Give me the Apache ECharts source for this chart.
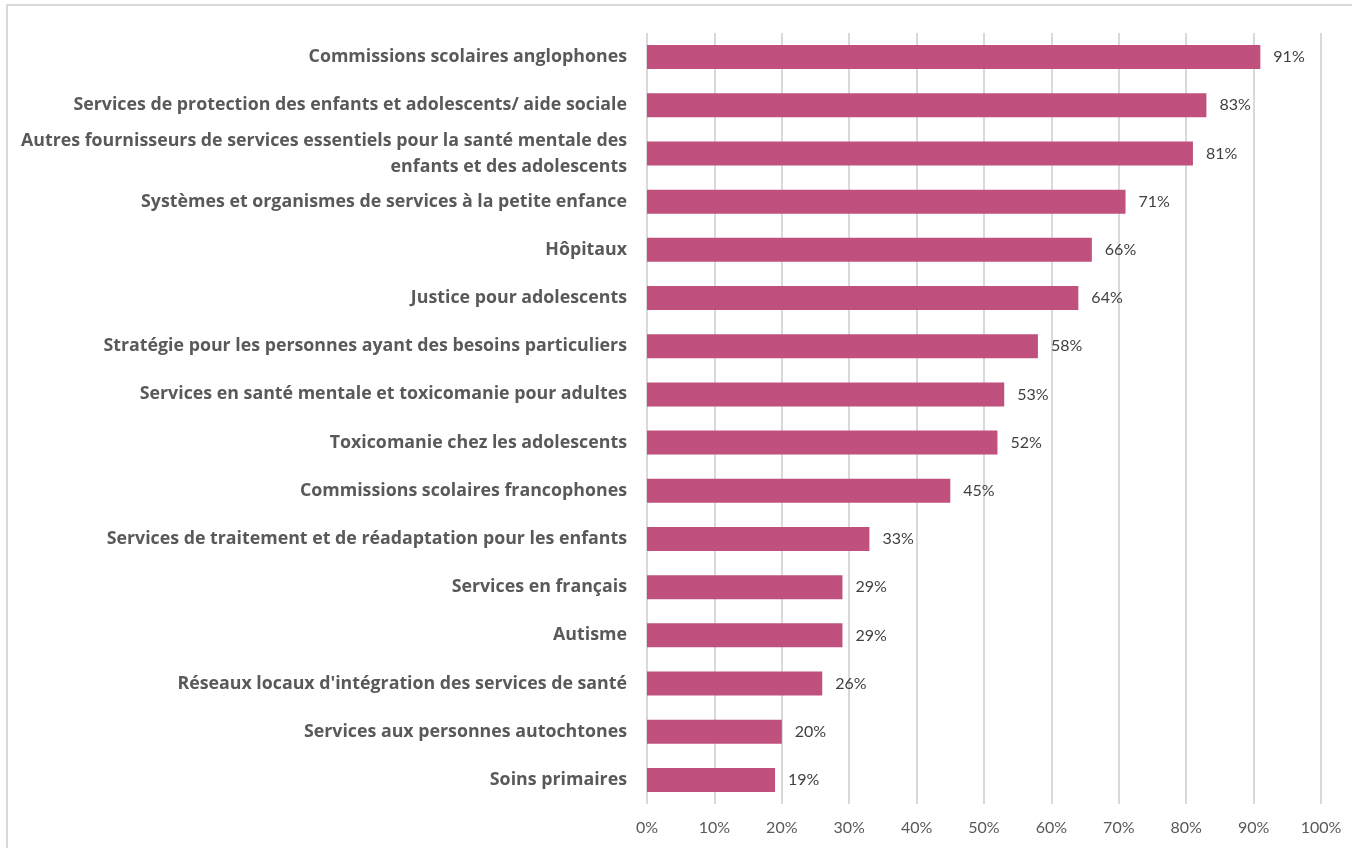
<!DOCTYPE html>
<html>
<head>
<meta charset="utf-8">
<script src="https://cdn.jsdelivr.net/npm/echarts@6/dist/echarts.min.js"></script>
<style>
html, body { margin: 0; padding: 0; background: #fff; }
#chart { width: 1352px; height: 848px; }
</style>
</head>
<body>
<div id="chart"></div>
<script>
var categories = [
  'Commissions scolaires anglophones',
  'Services de protection des enfants et adolescents/ aide sociale',
  'Autres fournisseurs de services essentiels pour la santé mentale des\nenfants et des adolescents',
  'Systèmes et organismes de services à la petite enfance',
  'Hôpitaux',
  'Justice pour adolescents',
  'Stratégie pour les personnes ayant des besoins particuliers',
  'Services en santé mentale et toxicomanie pour adultes',
  'Toxicomanie chez les adolescents',
  'Commissions scolaires francophones',
  'Services de traitement et de réadaptation pour les enfants',
  'Services en français',
  'Autisme',
  "Réseaux locaux d'intégration des services de santé",
  'Services aux personnes autochtones',
  'Soins primaires'
];
var values = [91, 83, 81, 71, 66, 64, 58, 53, 52, 45, 33, 29, 29, 26, 20, 19];

var myChart = echarts.init(document.getElementById('chart'));
var option = {
  animation: false,
  textStyle: { fontFamily: 'Lato' },
  graphic: [{
    type: 'rect',
    shape: { x: 7, y: 5, width: 1400, height: 900 },
    style: { fill: 'none', stroke: '#D9D9D9', lineWidth: 2 }
  }],
  grid: { left: 647, right: 31, top: 33, bottom: 44 },
  xAxis: {
    type: 'value',
    min: 0,
    max: 100,
    interval: 10,
    axisLine: { show: false },
    axisTick: { show: false },
    splitLine: { lineStyle: { color: '#D9D9D9', width: 2 } },
    axisLabel: {
      formatter: '{value}%',
      color: '#595959',
      fontSize: 16,
      margin: 16
    }
  },
  yAxis: {
    type: 'category',
    inverse: true,
    data: categories,
    axisLine: { show: false },
    axisTick: { show: false },
    axisLabel: {
      color: '#595959',
      fontFamily: 'Open Sans',
      fontSize: 17.8,
      fontWeight: 'bold',
      margin: 20,
      lineHeight: 26,
      padding: [4, 0, 0, 0],
      align: 'right'
    }
  },
  series: [{
    name: 'valeur',
    type: 'bar',
    data: values,
    barWidth: 24,
    itemStyle: { color: '#C0507E' },
    label: {
      show: true,
      position: 'right',
      distance: 13,
      formatter: '{c}%',
      color: '#404040',
      fontSize: 16
    }
  }]
};
myChart.setOption(option);
window.addEventListener('resize', function () {
  myChart.resize();
});
</script>
</body>
</html>
